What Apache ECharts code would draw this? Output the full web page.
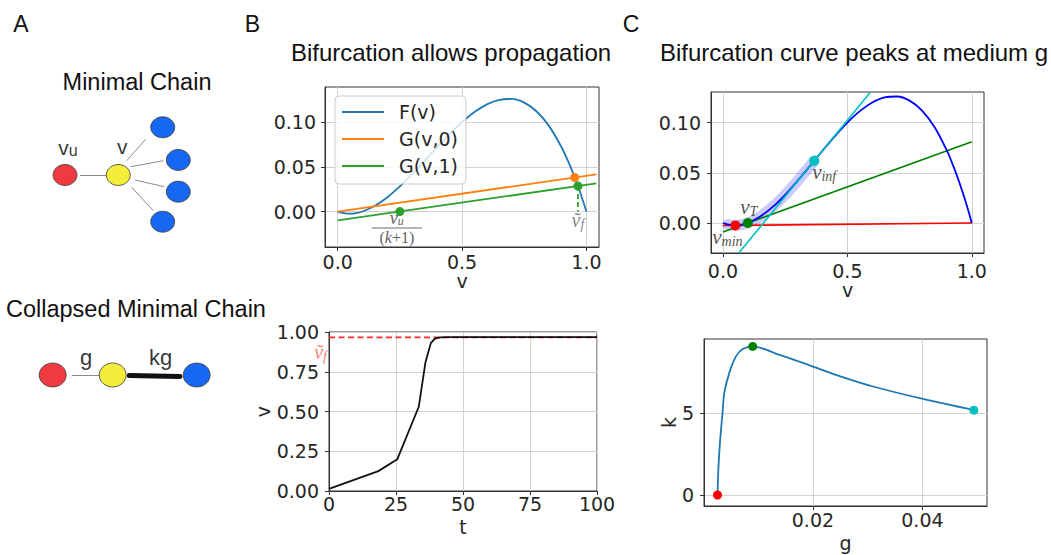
<!DOCTYPE html>
<html>
<head>
<meta charset="utf-8">
<title>Bifurcation figure</title>
<script src="https://cdn.jsdelivr.net/npm/echarts@6/dist/echarts.min.js"></script>
<style>
  html, body { margin: 0; padding: 0; background: #ffffff; }
  #chart { width: 1051px; height: 555px; }
</style>
</head>
<body>
<div id="chart"></div>
<script>
// ---------- data ----------
// F(v) sampled along the cubic nullcline
const vSamples = [0, 0.025, 0.05, 0.075, 0.1, 0.15, 0.2, 0.25, 0.3, 0.35, 0.4, 0.45, 0.5,
                  0.55, 0.6, 0.65, 0.7, 0.75, 0.8, 0.85, 0.9, 0.925, 0.95, 0.975, 1.0];
const fValues = [0, -0.0018, -0.0024, -0.0017, 0, 0.0064, 0.016, 0.0281, 0.042, 0.0569, 0.072, 0.0866, 0.1,
                 0.1114, 0.12, 0.1251, 0.126, 0.1219, 0.112, 0.0956, 0.072, 0.0572, 0.0404, 0.0213, 0];

// coupling lines G(v,0), G(v,1)
const gZeroLine = [[0, 0], [1.04, 0.0416]];
const gOneLine = [[0, -0.01], [1.04, 0.0316]];
const gZeroFixedPoint = [0.953, 0.0381];
const gOneRoot = [0.25, 0];
const gOneFixedPoint = [0.966, 0.0287];

// time course of v
const tValues = [0, 18.4, 25.5, 33.5, 36, 38, 39.5, 41.5, 45, 100];
const vTrace = [0.013, 0.125, 0.2, 0.53, 0.81, 0.93, 0.958, 0.966, 0.968, 0.968];
const vFixed = 0.966;

// bifurcation construction
const highlightV = [0.02, 0.05, 0.1, 0.15, 0.2, 0.25, 0.3, 0.3667];
const highlightF = [-0.0016, -0.0024, 0, 0.0064, 0.016, 0.0281, 0.042, 0.0619];
const minLine = [[0, -0.0025], [1, 0]];
const thresholdLine = [[0, -0.009], [1, 0.081]];
const tangentLine = [[0.0637, -0.03], [0.5912, 0.13]];
const vMinPoint = [0.05, -0.0024];
const vTPoint = [0.1, 0];
const vInfPoint = [0.3667, 0.0619];

// bifurcation curve k(g)
const gValues = [0.00257, 0.00275, 0.00306, 0.00349, 0.0038, 0.00472, 0.00594, 0.00716, 0.009,
                 0.0139, 0.0199, 0.025, 0.031, 0.0401, 0.0494];
const kValues = [0, 1.76, 3.38, 5.0, 6.2, 7.43, 8.43, 8.88, 9.04, 8.52, 7.83, 7.22, 6.6, 5.84, 5.16];
const kStart = [0.00257, 0];
const kPeak = [0.009, 9.04];
const kEnd = [0.0494, 5.16];

// tick labels
const ticksBTopX = [0, 0.5, 1.0];
const ticksBTopY = [0, 0.05, 0.1];
const ticksBBotX = [0, 25, 50, 75, 100];
const ticksBBotY = [0, 0.25, 0.5, 0.75, 1.0];
const ticksCTopX = [0, 0.5, 1.0];
const ticksCTopY = [0, 0.05, 0.1];
const ticksCBotX = [0.02, 0.04];
const ticksCBotY = [0, 5];

// network diagrams (diagram units)
const minimalNodes = [
  { role: 'upstream', x: 65, y: 175 },
  { role: 'center', x: 118.3, y: 175 },
  { role: 'branch', x: 162.7, y: 127.3 },
  { role: 'branch', x: 178.3, y: 160 },
  { role: 'branch', x: 178.3, y: 191.7 },
  { role: 'branch', x: 162.7, y: 221.7 }
];
const minimalEdges = [
  [[80, 175.7], [106, 175.7]],
  [[126.7, 160.7], [145.7, 139.3]],
  [[130.7, 166.7], [163.3, 160.7]],
  [[135, 180], [164.3, 186.7]],
  [[131.7, 187.3], [153.3, 210.7]]
];
const collapsedNodes = [
  { role: 'upstream', x: 52.7, y: 375 },
  { role: 'center', x: 112.7, y: 375 },
  { role: 'branch', x: 196.7, y: 375 }
];
const collapsedThinEdge = [[71.7, 375], [99, 375]];
const collapsedThickEdge = [[129.3, 375.5], [180, 376.5]];

// ---------- style ----------
const FONT_SANS = '"Liberation Sans", Arial, Helvetica, sans-serif';
const FONT_TICK = '"DejaVu Sans", sans-serif';
const FONT_MATH = '"Liberation Serif", "DejaVu Serif", serif';
const TEXT = '#262626';
const AXIS = '#333333';
const GRIDLINE = '#d3d3d3';
const nodeColors = { upstream: '#ef3b3f', center: '#f4ee3a', branch: '#1668f2' };

const zipXY = (xs, ys) => xs.map((x, i) => [x, ys[i]]);

function valueAxis(gridIndex, min, max, ticks, digits, margin, name, nameGap, isY) {
  return {
    type: 'value', gridIndex: gridIndex, min: min, max: max,
    axisLine: { show: true, onZero: false, lineStyle: { color: AXIS, width: 1 } },
    axisTick: { show: true, length: 4, customValues: ticks, lineStyle: { color: AXIS } },
    axisLabel: {
      customValues: ticks,
      formatter: v => Number(v).toFixed(digits),
      fontSize: 19, fontFamily: FONT_TICK, color: TEXT, margin: margin
    },
    splitLine: { show: true, lineStyle: { color: GRIDLINE, width: 1 } },
    name: name || '',
    nameLocation: 'middle',
    nameGap: nameGap || 0,
    nameRotate: isY ? 90 : 0,
    nameTextStyle: { fontSize: 19, fontFamily: FONT_TICK, color: TEXT }
  };
}
const hiddenAxis = (gridIndex, min, max, inverse) => ({
  type: 'value', gridIndex: gridIndex, min: min, max: max, inverse: !!inverse, show: false
});

const mathRich = (size, sub, color) => ({
  v: { fontFamily: FONT_MATH, fontStyle: 'italic', fontSize: size, color: color },
  s: { fontFamily: FONT_MATH, fontStyle: 'italic', fontSize: sub, color: color, padding: [Math.round(size * 0.45), 0, 0, 0] }
});

const line = (name, xi, data, color, width, extra) => Object.assign({
  type: 'line', name: name, xAxisIndex: xi, yAxisIndex: xi, data: data,
  symbol: 'none', showSymbol: false, smooth: false,
  lineStyle: { color: color, width: width }, itemStyle: { color: color },
  silent: true, z: 3
}, extra || {});

const dots = (xi, data, color, size, extra) => Object.assign({
  type: 'scatter', xAxisIndex: xi, yAxisIndex: xi, data: data,
  symbol: 'circle', symbolSize: size || 9, itemStyle: { color: color, opacity: 1 },
  silent: true, z: 6
}, extra || {});

const textAt = (xi, point, formatter, rich, labelExtra) => ({
  type: 'scatter', xAxisIndex: xi, yAxisIndex: xi, data: [point],
  symbolSize: 0, silent: true, z: 7,
  label: Object.assign({ show: true, formatter: formatter, rich: rich }, labelExtra || {})
});

const option = {
  animation: false,
  backgroundColor: '#ffffff',
  textStyle: { fontFamily: FONT_SANS },
  grid: [
    { left: 325, top: 87, width: 274, height: 160, show: true, borderColor: AXIS, borderWidth: 1 },
    { left: 329, top: 332, width: 268, height: 159, show: true, borderColor: AXIS, borderWidth: 1 },
    { left: 711, top: 92, width: 273, height: 161, show: true, borderColor: AXIS, borderWidth: 1 },
    { left: 704, top: 339, width: 283, height: 167, show: true, borderColor: AXIS, borderWidth: 1 },
    { left: 0, top: 0, width: 260, height: 555, show: false }
  ],
  xAxis: [
    valueAxis(0, -0.051, 1.0506, ticksBTopX, 1, 5, 'v', 22, false),
    valueAxis(1, 0, 100, ticksBBotX, 0, 3, 't', 26, false),
    valueAxis(2, -0.048, 1.049, ticksCTopX, 1, 8, 'v', 22, false),
    valueAxis(3, 0.0001, 0.0518, ticksCBotX, 2, 4, 'g', 27, false),
    hiddenAxis(4, 0, 260, false)
  ],
  yAxis: [
    valueAxis(0, -0.0397, 0.1394, ticksBTopY, 2, 9, '', 0, true),
    valueAxis(1, 0, 1, ticksBBotY, 2, 10, 'v', 56, true),
    valueAxis(2, -0.0299, 0.1305, ticksCTopY, 2, 10, '', 0, true),
    valueAxis(3, -0.67, 9.49, ticksCBotY, 0, 10, 'k', 26, true),
    hiddenAxis(4, 0, 555, true)
  ],
  legend: {
    data: ['F(v)', 'G(v,0)', 'G(v,1)'],
    orient: 'vertical', left: 335, top: 96,
    backgroundColor: 'rgba(255,255,255,0.8)',
    borderColor: '#cccccc', borderWidth: 1, borderRadius: 4,
    padding: [6, 8, 8, 7], itemGap: 7, itemWidth: 42, itemHeight: 2, icon: 'rect',
    textStyle: { fontSize: 19, fontFamily: FONT_TICK, color: TEXT, lineHeight: 20, padding: [0, 0, 0, 10] },
    selectedMode: false, z: 10
  },
  graphic: [
    { type: 'text', x: 21, y: 23.5, style: { text: 'A', fontSize: 23, fontFamily: FONT_SANS, fill: '#111', align: 'center', verticalAlign: 'middle' } },
    { type: 'text', x: 252.5, y: 23.5, style: { text: 'B', fontSize: 23, fontFamily: FONT_SANS, fill: '#111', align: 'center', verticalAlign: 'middle' } },
    { type: 'text', x: 631, y: 23.5, style: { text: 'C', fontSize: 23, fontFamily: FONT_SANS, fill: '#111', align: 'center', verticalAlign: 'middle' } },
    { type: 'text', x: 451, y: 52, style: { text: 'Bifurcation allows propagation', fontSize: 24, fontFamily: FONT_SANS, fill: '#111', align: 'center', verticalAlign: 'middle' } },
    { type: 'text', x: 854, y: 52, style: { text: 'Bifurcation curve peaks at medium g', fontSize: 24, fontFamily: FONT_SANS, fill: '#111', align: 'center', verticalAlign: 'middle' } },
    { type: 'text', x: 137, y: 82, style: { text: 'Minimal Chain', fontSize: 23.5, fontFamily: FONT_SANS, fill: '#111', align: 'center', verticalAlign: 'middle' } },
    { type: 'text', x: 6, y: 309, style: { text: 'Collapsed Minimal Chain', fontSize: 23.5, fontFamily: FONT_SANS, fill: '#111', align: 'left', verticalAlign: 'middle' } }
  ],
  series: [
    // ---- B, top: nullcline and coupling lines
    line('F(v)', 0, zipXY(vSamples, fValues), '#1f77b4', 1.8, { smooth: 0.35 }),
    line('G(v,0)', 0, gZeroLine, '#ff7f0e', 1.8),
    line('G(v,1)', 0, gOneLine, '#2ca02c', 1.8),
    line('', 0, [gOneFixedPoint, [gOneFixedPoint[0], 0]], '#2ca02c', 1.8, { lineStyle: { color: '#2ca02c', width: 1.8, type: [5, 3] } }),
    dots(0, [gZeroFixedPoint], '#ff7f0e'),
    dots(0, [gOneRoot, gOneFixedPoint], '#2ca02c'),
    textAt(0, gOneRoot, '{n|v}{ns|u}\n{bar| }\n{d|(}{dk|k}{d|+1)}', {
      n: { fontFamily: FONT_MATH, fontStyle: 'italic', fontSize: 18, color: '#333', lineHeight: 18 },
      ns: { fontFamily: FONT_MATH, fontStyle: 'italic', fontSize: 12, color: '#333', lineHeight: 12, padding: [6, 0, 0, 0] },
      bar: { width: 50, height: 1, fontSize: 1, lineHeight: 3, backgroundColor: '#444' },
      d: { fontFamily: FONT_MATH, fontSize: 16, color: '#333', lineHeight: 16 },
      dk: { fontFamily: FONT_MATH, fontStyle: 'italic', fontSize: 16, color: '#333', lineHeight: 16 }
    }, { position: 'bottom', distance: -3, offset: [-3, 0], align: 'center' }),
    textAt(0, [gOneFixedPoint[0], 0], '{v|ṽ}{s|f}', mathRich(20, 14, '#666'),
      { position: 'bottom', distance: -3, offset: [0, 0] }),

    // ---- B, bottom: time course
    line('', 1, [[0, vFixed], [100, vFixed]], '#ff2a2a', 1.6, { lineStyle: { color: '#ff2a2a', width: 1.6, type: [6, 3.5] }, z: 2 }),
    line('', 1, zipXY(tValues, vTrace), '#111111', 1.8, { z: 4 }),
    textAt(1, [0, vFixed], '{v|ṽ}{s|f}', mathRich(20, 14, '#ff5a5a'),
      { position: 'left', distance: 2, offset: [0, 15] }),

    // ---- C, top: bifurcation construction
    line('', 2, zipXY(highlightV, highlightF), '#6b6bff', 11, {
      smooth: 0.35, lineStyle: { color: '#6b6bff', width: 11, opacity: 0.35, cap: 'round' }, z: 2
    }),
    line('', 2, minLine, '#ff0000', 1.6),
    line('', 2, thresholdLine, '#008000', 1.6),
    line('', 2, zipXY(vSamples, fValues), '#0000ff', 1.8, { smooth: 0.35, z: 4 }),
    line('', 2, tangentLine, '#00bfbf', 1.6, { z: 4 }),
    dots(2, [vMinPoint], '#ff0000', 10),
    dots(2, [vTPoint], '#008000', 10),
    dots(2, [vInfPoint], '#00bfbf', 10),
    textAt(2, vTPoint, '{v|v}{s|T}', mathRich(21, 14, '#222'), { position: 'top', distance: 4, offset: [1, 0] }),
    textAt(2, vMinPoint, '{v|v}{s|min}', mathRich(21, 14, '#222'), { position: 'bottom', distance: 0, offset: [-8, 0] }),
    textAt(2, vInfPoint, '{v|v}{s|inf}', mathRich(21, 14, '#222'), { position: 'bottom', distance: 0, offset: [10, 0] }),

    // ---- C, bottom: k(g)
    line('', 3, zipXY(gValues, kValues), '#1f77b4', 1.8, { smooth: 0.3 }),
    dots(3, [kStart], '#ff0000'),
    dots(3, [kPeak], '#008000'),
    dots(3, [kEnd], '#00bfbf'),

    // ---- A: network diagrams
    {
      type: 'lines', coordinateSystem: 'cartesian2d', xAxisIndex: 4, yAxisIndex: 4, silent: true, z: 2,
      data: minimalEdges.concat([collapsedThinEdge]).map(c => ({ coords: c })),
      lineStyle: { color: '#8a8a8a', width: 1, opacity: 1 }
    },
    {
      type: 'lines', coordinateSystem: 'cartesian2d', xAxisIndex: 4, yAxisIndex: 4, silent: true, z: 2,
      data: [{ coords: collapsedThickEdge }],
      lineStyle: { color: '#111111', width: 5, opacity: 1, cap: 'round' }
    },
    {
      type: 'scatter', xAxisIndex: 4, yAxisIndex: 4, silent: true, z: 5, symbol: 'circle', symbolSize: [24, 21],
      data: minimalNodes.map(n => ({ value: [n.x, n.y], itemStyle: { color: nodeColors[n.role], borderColor: '#3a3a3a', borderWidth: 0.8, opacity: 1 } }))
    },
    {
      type: 'scatter', xAxisIndex: 4, yAxisIndex: 4, silent: true, z: 5, symbol: 'circle', symbolSize: [27, 24],
      data: collapsedNodes.map(n => ({ value: [n.x, n.y], itemStyle: { color: nodeColors[n.role], borderColor: '#3a3a3a', borderWidth: 0.8, opacity: 1 } }))
    },
    textAt(4, [minimalNodes[0].x + 3, 147], '{v|v}{s|u}', {
      v: { fontFamily: FONT_SANS, fontSize: 21, color: '#000' },
      s: { fontFamily: FONT_SANS, fontSize: 16, color: '#000', padding: [6, 0, 0, 0] }
    }, { position: 'inside' }),
    textAt(4, [minimalNodes[1].x + 4, 146], '{v|v}', { v: { fontFamily: FONT_SANS, fontSize: 21, color: '#000' } }, { position: 'inside' }),
    textAt(4, [86, 357], '{v|g}', { v: { fontFamily: FONT_SANS, fontSize: 22, color: '#000' } }, { position: 'inside' }),
    textAt(4, [160.5, 357], '{v|kg}', { v: { fontFamily: FONT_SANS, fontSize: 22, color: '#000' } }, { position: 'inside' })
  ]
};

const chart = echarts.init(document.getElementById('chart'), null, { renderer: 'svg' });
chart.setOption(option);
</script>
</body>
</html>
